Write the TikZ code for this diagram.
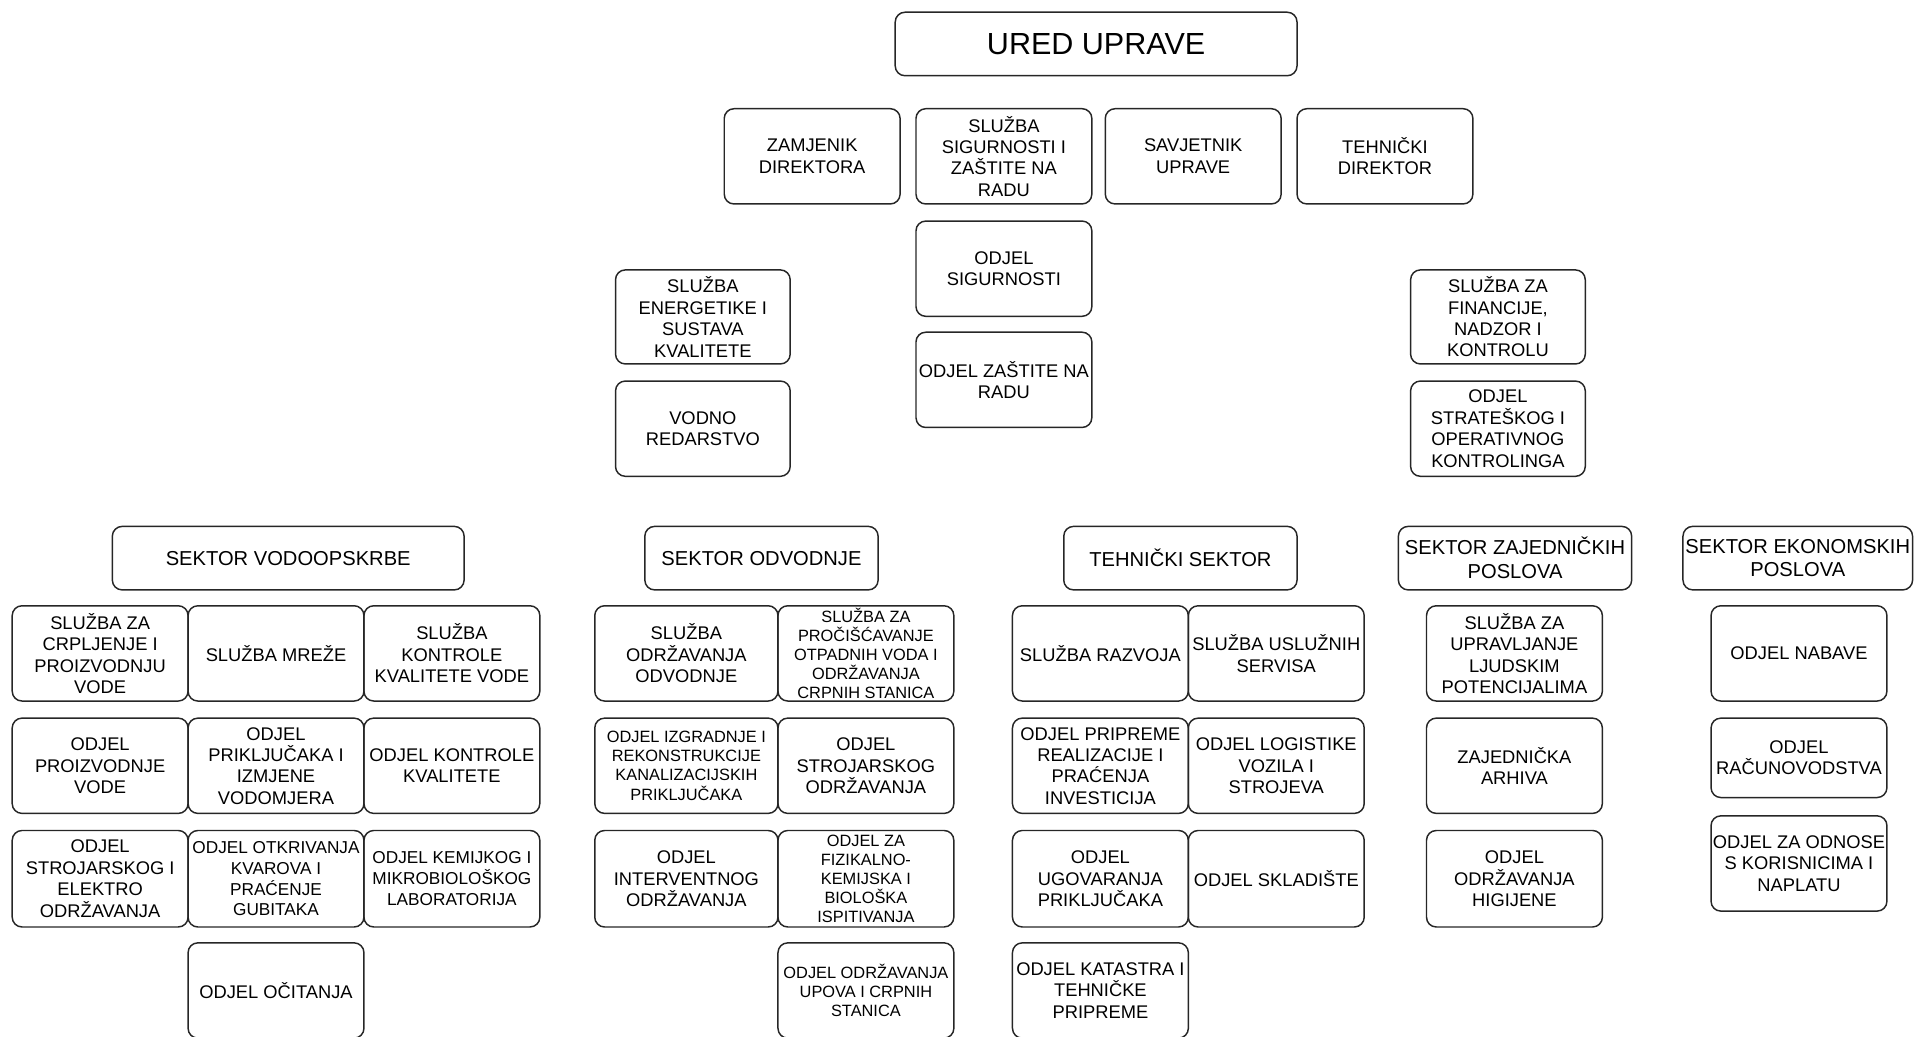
\documentclass[tikz,border=0pt]{standalone}
\usepackage{fontspec}
\setmainfont{Liberation Sans}
\begin{document}
\begin{tikzpicture}[x=1pt,y=-1pt,
  bx/.style={draw=black!85, line width=1.2pt, rounded corners=8pt, align=center, inner sep=0pt,
    font=\fontsize{15}{17.5}\selectfont, minimum width=144pt, minimum height=78pt},
  smx/.style={font=\fontsize{13.4}{15.7}\selectfont},
  mdx/.style={font=\fontsize{14.1}{17}\selectfont},
  secx/.style={bx, minimum height=52pt, font=\fontsize{16.5}{19.5}\selectfont},
  topx/.style={bx, minimum width=329pt, minimum height=52pt, font=\fontsize{25}{28}\selectfont}]
\useasboundingbox (0,0) rectangle (1568,849);
\clip (0,0) rectangle (1568,849);
% top
\node[topx] (u) at (897.5,36) {URED UPRAVE};
\node[bx] (z) at (665,128) {ZAMJENIK\\DIREKTORA};
\node[bx] (ss) at (822,128) {SLUŽBA\\SIGURNOSTI I\\ZAŠTITE NA\\RADU};
\node[bx] (sa) at (977,128) {SAVJETNIK\\UPRAVE};
\node[bx] (td) at (1134,128) {TEHNIČKI\\DIREKTOR};
\node[bx] (os) at (822,220) {ODJEL\\SIGURNOSTI};
\node[bx] (oz) at (822,311) {ODJEL ZAŠTITE NA\\RADU};
\node[bx, minimum width=143pt, minimum height=77pt] (se) at (575.5,259.5) {SLUŽBA\\ENERGETIKE I\\SUSTAVA\\KVALITETE};
\node[bx, minimum width=143pt] (vr) at (575.5,351) {VODNO\\REDARSTVO};
\node[bx, minimum width=143pt, minimum height=77pt] (sf) at (1226.5,259.5) {SLUŽBA ZA\\FINANCIJE,\\NADZOR I\\KONTROLU};
\node[bx, minimum width=143pt] (ost) at (1226.5,351) {ODJEL\\STRATEŠKOG I\\OPERATIVNOG\\KONTROLINGA};
% sectors
\node[secx, minimum width=288pt] (sv) at (236,457) {SEKTOR VODOOPSKRBE};
\node[secx, minimum width=191pt] (so) at (623.5,457) {SEKTOR ODVODNJE};
\node[secx, minimum width=191pt] (ts) at (966.5,457) {TEHNIČKI SEKTOR};
\node[secx, minimum width=191pt] (sz) at (1240.5,457) {SEKTOR ZAJEDNIČKIH\\POSLOVA};
\node[secx, minimum width=188pt] (sek) at (1472,457) {SEKTOR EKONOMSKIH\\POSLOVA};
% vodoopskrba
\node[bx] (v11) at (82,535) {SLUŽBA ZA\\CRPLJENJE I\\PROIZVODNJU\\VODE};
\node[bx] (v12) at (226,535) {SLUŽBA MREŽE};
\node[bx] (v13) at (370,535) {SLUŽBA\\KONTROLE\\KVALITETE VODE};
\node[bx] (v21) at (82,627) {ODJEL\\PROIZVODNJE\\VODE};
\node[bx] (v22) at (226,627) {ODJEL\\PRIKLJUČAKA I\\IZMJENE\\VODOMJERA};
\node[bx] (v23) at (370,627) {ODJEL KONTROLE\\KVALITETE};
\node[bx, minimum height=79pt] (v31) at (82,719.5) {ODJEL\\STROJARSKOG I\\ELEKTRO\\ODRŽAVANJA};
\node[bx, mdx, minimum height=79pt] (v32) at (226,719.5) {ODJEL OTKRIVANJA\\KVAROVA I\\PRAĆENJE\\GUBITAKA};
\node[bx, mdx, minimum height=79pt] (v33) at (370,719.5) {ODJEL KEMIJKOG I\\MIKROBIOLOŠKOG\\LABORATORIJA};
\node[bx] (v42) at (226,811) {ODJEL OČITANJA};
% odvodnja
\node[bx, minimum width=150pt] (o11) at (562,535) {SLUŽBA\\ODRŽAVANJA\\ODVODNJE};
\node[bx, smx] (o12) at (709,535) {SLUŽBA ZA\\PROČIŠĆAVANJE\\OTPADNIH VODA I\\ODRŽAVANJA\\CRPNIH STANICA};
\node[bx, smx, minimum width=150pt] (o21) at (562,627) {ODJEL IZGRADNJE I\\REKONSTRUKCIJE\\KANALIZACIJSKIH\\PRIKLJUČAKA};
\node[bx] (o22) at (709,627) {ODJEL\\STROJARSKOG\\ODRŽAVANJA};
\node[bx, minimum width=150pt, minimum height=79pt] (o31) at (562,719.5) {ODJEL\\INTERVENTNOG\\ODRŽAVANJA};
\node[bx, smx, minimum height=79pt] (o32) at (709,719.5) {ODJEL ZA\\FIZIKALNO-\\KEMIJSKA I\\BIOLOŠKA\\ISPITIVANJA};
\node[bx, smx] (o42) at (709,811) {ODJEL ODRŽAVANJA\\UPOVA I CRPNIH\\STANICA};
% tehnicki
\node[bx] (t11) at (901,535) {SLUŽBA RAZVOJA};
\node[bx] (t12) at (1045,535) {SLUŽBA USLUŽNIH\\SERVISA};
\node[bx] (t21) at (901,627) {ODJEL PRIPREME\\REALIZACIJE I\\PRAĆENJA\\INVESTICIJA};
\node[bx] (t22) at (1045,627) {ODJEL LOGISTIKE\\VOZILA I\\STROJEVA};
\node[bx, minimum height=79pt] (t31) at (901,719.5) {ODJEL\\UGOVARANJA\\PRIKLJUČAKA};
\node[bx, minimum height=79pt] (t32) at (1045,719.5) {ODJEL SKLADIŠTE};
\node[bx] (t41) at (901,811) {ODJEL KATASTRA I\\TEHNIČKE\\PRIPREME};
% zajednicki
\node[bx] (z1) at (1240,535) {SLUŽBA ZA\\UPRAVLJANJE\\LJUDSKIM\\POTENCIJALIMA};
\node[bx] (z2) at (1240,627) {ZAJEDNIČKA\\ARHIVA};
\node[bx, minimum height=79pt] (z3) at (1240,719.5) {ODJEL\\ODRŽAVANJA\\HIGIJENE};
% ekonomski
\node[bx] (e1) at (1473,535) {ODJEL NABAVE};
\node[bx, minimum height=65pt] (e2) at (1473,620.5) {ODJEL\\RAČUNOVODSTVA};
\node[bx] (e3) at (1473,707) {ODJEL ZA ODNOSE\\S KORISNICIMA I\\NAPLATU};
\end{tikzpicture}
\end{document}
